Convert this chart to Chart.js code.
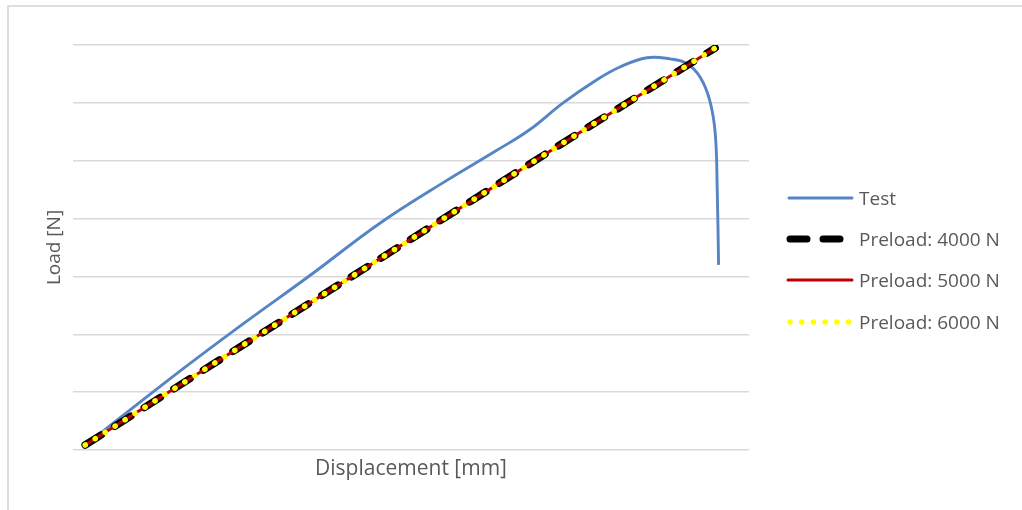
<!DOCTYPE html>
<html>
<head>
<meta charset="utf-8">
<script src="https://cdn.jsdelivr.net/npm/chart.js@4/dist/chart.umd.min.js"></script>
<style>
  html, body { margin: 0; padding: 0; background: #fff; }
  #wrap { position: relative; width: 1022px; height: 510px; overflow: hidden; }
  #frame { position: absolute; left: 7px; top: 5px; width: 2000px; height: 2000px;
           border: 2px solid #dedede; box-sizing: border-box; }
  canvas { position: absolute; left: 0; top: 0; }
  .lg { position: absolute; left: 0; top: 0; width: 1022px; height: 510px; pointer-events: none; }
  .lt { position: absolute; left: 859px; font-family: 'Open Sans', sans-serif; font-size: 19px;
        color: #595959; line-height: 24px; height: 24px; white-space: nowrap; }
</style>
</head>
<body>
<div id="wrap">
  <div id="frame"></div>
  <canvas id="c" width="1022" height="510"></canvas>
  <svg class="lg" width="1022" height="510">
    <line x1="789" y1="198" x2="852" y2="198" stroke="#5585c5" stroke-width="3" stroke-linecap="round"/>
    <line x1="790" y1="239" x2="850" y2="239" stroke="#000" stroke-width="7" stroke-linecap="round" stroke-dasharray="17 16"/>
    <line x1="788" y1="280" x2="852" y2="280" stroke="#c00000" stroke-width="3" stroke-linecap="round"/>
    <line x1="790" y1="322" x2="852" y2="322" stroke="#ffff00" stroke-width="5.5" stroke-linecap="round" stroke-dasharray="0.1 11.6"/>
  </svg>
  <div id="legend"></div>
</div>
<script>
// ---- data ----
const seriesNames = ["Test", "Preload: 4000 N", "Preload: 5000 N", "Preload: 6000 N"];
const axisTitles = ["Displacement [mm]", "Load [N]"];

const testX = [0.18, 1.40, 2.47, 3.51, 4.54, 5.53, 6.27, 6.76, 7.25, 7.75, 8.09, 8.49, 8.83, 9.08, 9.28, 9.42, 9.50, 9.53, 9.55];
const testY = [40, 600, 1070, 1510, 1960, 2330, 2590, 2770, 3000, 3200, 3310, 3390, 3380, 3340, 3220, 3020, 2740, 2250, 1600];

const pre4000X = [0.18, 2.47, 4.84, 7.20, 9.50];
const pre4000Y = [43, 890, 1763, 2636, 3474];
const pre5000X = [0.18, 2.47, 4.84, 7.20, 9.50];
const pre5000Y = [43, 890, 1763, 2636, 3474];
const pre6000X = [0.18, 2.47, 4.84, 7.20, 9.50];
const pre6000Y = [43, 890, 1763, 2636, 3474];

const yTicks = [0, 500, 1000, 1500, 2000, 2500, 3000, 3500];
const xRange = [0, 10];

function pts(xs, ys) { return xs.map((x, i) => ({ x: x, y: ys[i] })); }

// legend text (HTML)
const legendRows = [198, 239, 280, 322];
const lg = document.getElementById('legend');
seriesNames.forEach((n, i) => {
  const d = document.createElement('div');
  d.className = 'lt';
  d.style.top = (legendRows[i] - 12) + 'px';
  d.textContent = n;
  lg.appendChild(d);
});

const xTitleFont = { family: "'Open Sans', sans-serif", size: 21, lineHeight: 1.2 };
const yTitleFont = { family: "'Open Sans', sans-serif", size: 19, lineHeight: 1.2 };

new Chart(document.getElementById('c'), {
  type: 'line',
  data: {
    datasets: [
      { label: seriesNames[0], data: pts(testX, testY), borderColor: '#5585c5', borderWidth: 2.9,
        pointRadius: 0, tension: 0.4, fill: false, order: 4 },
      { label: seriesNames[1], data: pts(pre4000X, pre4000Y), borderColor: '#000000', borderWidth: 7.5,
        borderDash: [19, 16], borderCapStyle: 'round', pointRadius: 0, tension: 0, fill: false, order: 3 },
      { label: seriesNames[2], data: pts(pre5000X, pre5000Y), borderColor: '#c00000', borderWidth: 3,
        pointRadius: 0, tension: 0, fill: false, order: 2 },
      { label: seriesNames[3], data: pts(pre6000X, pre6000Y), borderColor: '#ffff00', borderWidth: 5.5,
        borderDash: [0.1, 11.7], borderCapStyle: 'round', pointRadius: 0, tension: 0, fill: false, order: 1 }
    ]
  },
  options: {
    responsive: false,
    animation: false,
    devicePixelRatio: 1,
    layout: { padding: { left: 43.6, right: 273, top: 45, bottom: 28.4 } },
    plugins: { legend: { display: false }, tooltip: { enabled: false } },
    scales: {
      x: {
        type: 'linear', min: xRange[0], max: xRange[1],
        grid: { display: false, drawTicks: false },
        border: { display: false },
        ticks: { display: false },
        title: { display: true, text: axisTitles[0], color: '#595959', font: xTitleFont,
                 padding: { top: 6.4, bottom: 0 } }
      },
      y: {
        type: 'linear', min: yTicks[0], max: yTicks[yTicks.length - 1],
        afterBuildTicks: (s) => { s.ticks = yTicks.map(v => ({ value: v })); },
        grid: { color: '#d9d9d9', lineWidth: 1.5, drawTicks: false },
        border: { display: false },
        ticks: { display: false },
        title: { display: true, text: axisTitles[1], color: '#595959', font: yTitleFont,
                 padding: { top: 0, bottom: 6.6 } }
      }
    }
  }
});
</script>
</body>
</html>
